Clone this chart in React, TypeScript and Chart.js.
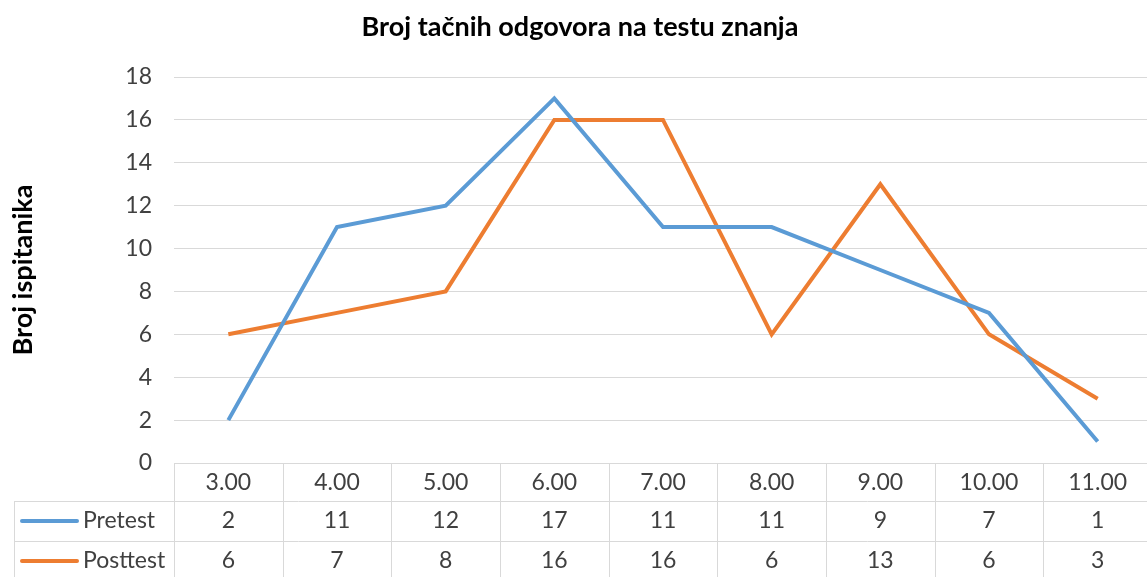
import React, { useEffect, useRef } from "react";
import { Chart, registerables } from "chart.js";

Chart.register(...registerables);

const categories = ["3.00", "4.00", "5.00", "6.00", "7.00", "8.00", "9.00", "10.00", "11.00"];
const pretest = [2, 11, 12, 17, 11, 11, 9, 7, 1];
const posttest = [6, 7, 8, 16, 16, 6, 13, 6, 3];
const seriesNames = ["Pretest", "Posttest"];
const seriesColors = ["#5B9BD5", "#ED7D31"];
const chartTitle = "Broj tačnih odgovora na testu znanja";
const yAxisTitle = "Broj ispitanika";
const yMin = 0;
const yMax = 18;
const yStep = 2;

const FONT = "Lato, 'Open Sans', sans-serif";
const TEXT = "#404040";

const tablePlugin = {
  id: "dataTable",
  afterDraw(chart: any) {
    const { ctx, chartArea } = chart;
    const x = chart.scales.x;
    const step = x.getPixelForValue(1) - x.getPixelForValue(0);
    const top = Math.round(chartArea.bottom);
    const row1 = top + 38;
    const row2 = top + 78;
    const bottom = chart.height;
    const right = chart.width;
    ctx.save();
    ctx.strokeStyle = "#d9d9d9";
    ctx.lineWidth = 1;
    const line = (x1: number, y1: number, x2: number, y2: number) => {
      ctx.beginPath();
      ctx.moveTo(x1, y1);
      ctx.lineTo(x2, y2);
      ctx.stroke();
    };
    line(14, row1 + 0.5, right, row1 + 0.5);
    line(14, row2 + 0.5, right, row2 + 0.5);
    line(14.5, row1, 14.5, bottom);
    for (let i = 0; i <= categories.length; i++) {
      const xb = Math.round(x.getPixelForValue(0) - step / 2 + i * step) + 0.5;
      line(xb, top, xb, bottom);
    }
    ctx.fillStyle = TEXT;
    ctx.font = `23px ${FONT}`;
    ctx.textAlign = "center";
    ctx.textBaseline = "middle";
    const rows = [pretest, posttest];
    const hy = top + 20;
    const rowY = [row1 + 20, row2 + 20];
    categories.forEach((c, i) => {
      const cx = x.getPixelForValue(i);
      ctx.fillText(c, cx, hy);
      ctx.fillText(String(rows[0][i]), cx, rowY[0]);
      ctx.fillText(String(rows[1][i]), cx, rowY[1]);
    });
    seriesNames.forEach((name, k) => {
      ctx.strokeStyle = seriesColors[k];
      ctx.lineWidth = 4;
      ctx.lineCap = "round";
      line(22, rowY[k], 77, rowY[k]);
      ctx.textAlign = "left";
      ctx.fillText(name, 83, rowY[k]);
    });
    // title
    ctx.fillStyle = "#000";
    ctx.font = `bold 27px ${FONT}`;
    ctx.textAlign = "center";
    ctx.textBaseline = "alphabetic";
    ctx.fillText(chartTitle, 580, 36);
    // y axis title
    ctx.translate(32, (chartArea.top + chartArea.bottom) / 2);
    ctx.rotate(-Math.PI / 2);
    ctx.fillText(yAxisTitle, 0, 0);
    ctx.restore();
  },
};

export default function App() {
  const ref = useRef<HTMLCanvasElement>(null);
  useEffect(() => {
    if (!ref.current) return;
    const chart = new Chart(ref.current, {
      type: "line",
      data: {
        labels: categories,
        datasets: [
          { label: seriesNames[0], data: pretest, borderColor: seriesColors[0], backgroundColor: seriesColors[0], borderWidth: 4, pointRadius: 0, tension: 0, fill: false },
          { label: seriesNames[1], data: posttest, borderColor: seriesColors[1], backgroundColor: seriesColors[1], borderWidth: 4, pointRadius: 0, tension: 0, fill: false },
        ],
      },
      options: {
        responsive: false,
        animation: false,
        layout: { padding: { top: 77, bottom: 106, left: 0, right: 0 } },
        plugins: { legend: { display: false }, tooltip: { enabled: false }, title: { display: false } },
        scales: {
          x: {
            offset: true,
            grid: { display: false },
            ticks: { display: false },
            border: { display: false },
          },
          y: {
            min: yMin,
            max: yMax,
            ticks: { stepSize: yStep, padding: 22, color: TEXT, font: { size: 23, family: FONT } },
            grid: { color: "#d9d9d9", drawTicks: false, lineWidth: 1 },
            border: { display: false },
            afterFit: (s: any) => { s.width = 174; },
          },
        },
      },
      plugins: [tablePlugin],
    });
    return () => chart.destroy();
  }, []);
  return (
    <div style={{ position: "fixed", left: 0, top: 0, width: 1147, height: 577, overflow: "hidden", background: "#fff" }}>
      <canvas ref={ref} width={1152} height={577} />
    </div>
  );
}
